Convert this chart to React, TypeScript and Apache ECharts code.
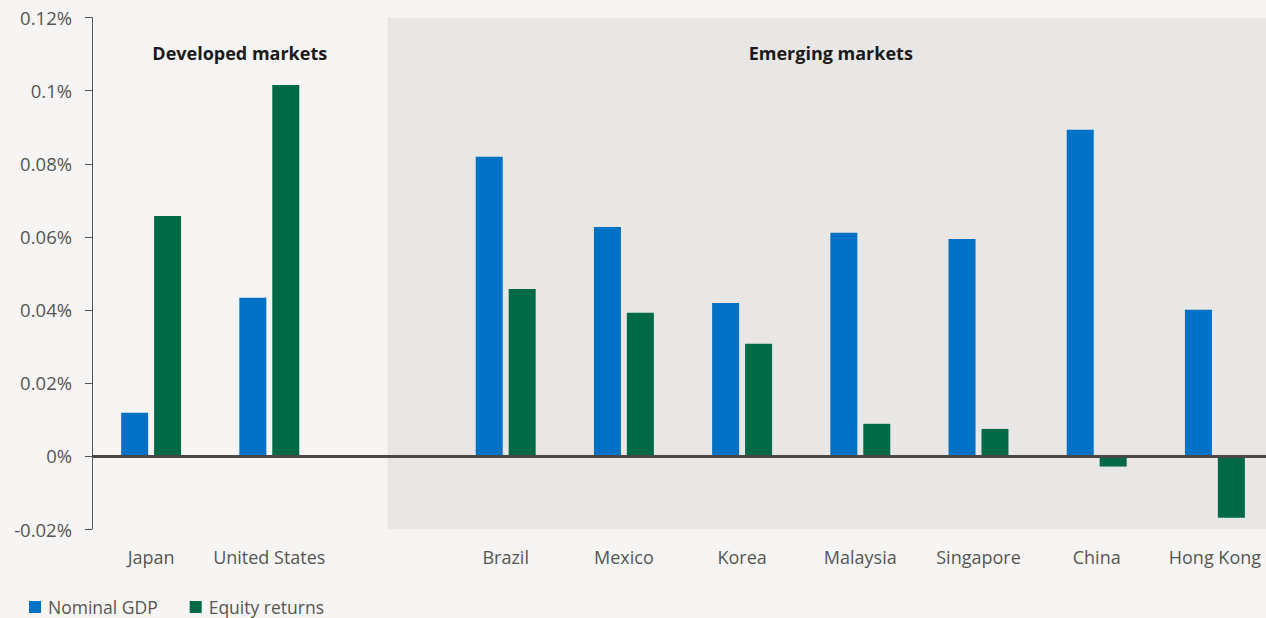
import React, { useEffect, useRef } from "react";
import * as echarts from "echarts";

const categories = ["Japan", "United States", " ", "Brazil", "Mexico", "Korea", "Malaysia", "Singapore", "China", "Hong Kong"];
const nominalGDP = [0.0118, 0.0433, null, 0.0819, 0.0627, 0.0419, 0.0611, 0.0594, 0.0893, 0.04];
const equityReturns = [0.0657, 0.1016, null, 0.0457, 0.0392, 0.0307, 0.0088, 0.0074, -0.0029, -0.0169];
const seriesNames = ["Nominal GDP", "Equity returns"];
const regionTitles = ["Developed markets", "Emerging markets"];
const yMin = -0.02;
const yMax = 0.12;
const yInterval = 0.02;
const emergingStartIndex = 2;

const FONT = "'Open Sans', sans-serif";
const GRID_LEFT = 92;

export default function App() {
  const ref = useRef<HTMLDivElement>(null);
  useEffect(() => {
    if (!ref.current) return;
    const chart = echarts.init(ref.current, undefined, { renderer: "svg" });
    chart.setOption({
      animation: false,
      backgroundColor: "#f6f5f3",
      textStyle: { fontFamily: FONT },
      grid: { left: GRID_LEFT, right: 0, top: 17.7, bottom: 89 },
      legend: {
        left: 29,
        top: 598,
        padding: 0,
        itemWidth: 12,
        itemHeight: 12,
        itemGap: 32,
        icon: "rect",
        textStyle: { fontSize: 17.5, color: "#555", fontFamily: FONT, padding: [0, 0, 0, 2] },
        data: seriesNames,
      },
      xAxis: {
        type: "category",
        data: categories,
        position: "bottom",
        axisLine: { show: false, onZero: false },
        axisTick: { show: false },
        axisLabel: { interval: 0, margin: 19, fontSize: 18, color: "#555", fontFamily: FONT },
        splitLine: { show: false },
      },
      yAxis: {
        type: "value",
        min: yMin,
        max: yMax,
        interval: yInterval,
        axisLine: { show: true, lineStyle: { color: "#555", width: 1 } },
        axisTick: { show: true, length: 7, lineStyle: { color: "#555", width: 1 } },
        splitLine: { show: false },
        axisLabel: {
          margin: 20,
          fontSize: 18.5,
          color: "#555",
          fontFamily: FONT,
          formatter: (v: number) => `${parseFloat(v.toFixed(2))}%`,
        },
      },
      series: [
        {
          name: seriesNames[0],
          type: "bar",
          data: nominalGDP,
          barWidth: 27,
          barGap: "22%",
          itemStyle: { color: "#0072c6" },
          z: 3,
        },
        {
          name: seriesNames[1],
          type: "bar",
          data: equityReturns,
          barWidth: 27,
          barGap: "22%",
          itemStyle: { color: "#006a47" },
          z: 3,
          markLine: {
            silent: true,
            symbol: ["none", "none"],
            label: { show: false },
            lineStyle: { color: "#4a4846", width: 3, type: "solid" },
            data: [{ yAxis: 0 }],
            z: 5,
          },
        },
      ],
    });

    const xStart = chart.convertToPixel({ xAxisIndex: 0 }, emergingStartIndex) as number;
    const yTop = chart.convertToPixel({ yAxisIndex: 0 }, yMax) as number;
    const yBottom = chart.convertToPixel({ yAxisIndex: 0 }, yMin) as number;
    const xEnd = chart.getWidth();
    chart.setOption({
      graphic: [
        {
          type: "rect",
          z: -10,
          silent: true,
          shape: { x: xStart, y: yTop, width: xEnd - xStart, height: yBottom - yTop },
          style: { fill: "#e8e7e5" },
        },
        {
          type: "text",
          x: (GRID_LEFT + xStart) / 2,
          y: 53,
          style: {
            text: regionTitles[0],
            fontSize: 18,
            fontWeight: "bold",
            fill: "#1a1a1a",
            fontFamily: FONT,
            align: "center",
            verticalAlign: "middle",
          },
        },
        {
          type: "text",
          x: (xStart + xEnd) / 2,
          y: 53,
          style: {
            text: regionTitles[1],
            fontSize: 18,
            fontWeight: "bold",
            fill: "#1a1a1a",
            fontFamily: FONT,
            align: "center",
            verticalAlign: "middle",
          },
        },
      ],
    });
    return () => chart.dispose();
  }, []);
  return (
    <div style={{ position: "fixed", left: 0, top: 0, width: 1266, height: 618, overflow: "hidden" }}>
      <div ref={ref} style={{ width: 1274, height: 618 }} />
    </div>
  );
}
